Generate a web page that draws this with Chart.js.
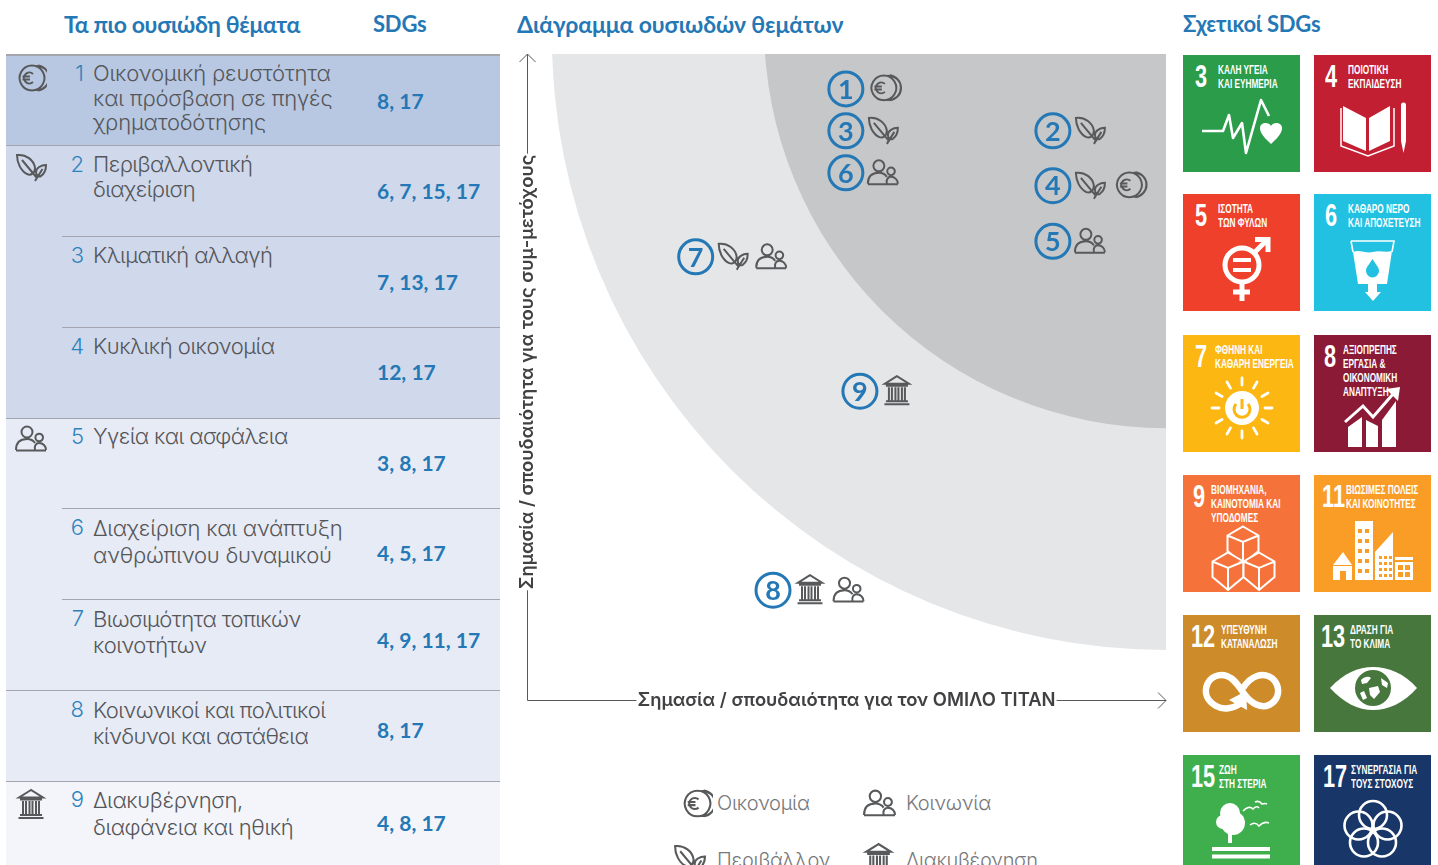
<!DOCTYPE html>
<html lang="el">
<head>
<meta charset="utf-8">
<title>Διάγραμμα ουσιωδών θεμάτων</title>
<script src="https://cdn.jsdelivr.net/npm/chart.js@4"></script>
<style>
  html, body { margin: 0; padding: 0; width: 1438px; height: 865px; overflow: hidden; background: #fff; }
  body { position: relative; font-family: Inter, "Noto Sans", sans-serif; color: #58595b; }
  .abs { position: absolute; }
  .head { position: absolute; font: 700 23px/28px Lato, "Noto Sans", sans-serif; color: #2478b5; letter-spacing: -0.2px; white-space: nowrap; }
  .band { position: absolute; left: 6px; width: 494px; }
  .rule { position: absolute; height: 1px; background: #a3a7ad; }
  .num { position: absolute; left: 62px; width: 22px; text-align: right; font: 300 22px/25px Inter, sans-serif; color: #2f83bd; }
  .txt { position: absolute; left: 93px; font: 300 22px/25px Inter, sans-serif; color: #55565a; white-space: nowrap; }
  .sdg { position: absolute; left: 377px; font: 700 21px/26px Lato, sans-serif; color: #2478b5; white-space: nowrap; }
  .legend { position: absolute; font: 300 20px/26px Inter, sans-serif; color: #77787b; white-space: nowrap; letter-spacing: -0.3px; }
  .tile { position: absolute; width: 117px; height: 117px; color: #fff; overflow: hidden; }
  .tile svg { position: absolute; left: 0; top: 0; }
  .tile .n { position: absolute; top: 5px; font: 700 32px/32px "Liberation Sans", sans-serif; transform: scaleX(.68); transform-origin: left top; }
  .tile .t { position: absolute; top: 8px; font: 700 12.5px/14px "Liberation Sans", sans-serif; white-space: nowrap; transform: scaleX(.66); transform-origin: left top; }
  #chartBox { position: absolute; left: 510px; top: 40px; width: 670px; height: 680px; }
</style>
</head>
<body>
<div id="chartBox"><canvas id="chart"></canvas></div>
<script>
// data
const topicNumbers = [1, 2, 3, 4, 5, 6, 7, 8, 9];
const topicLabels = [
  ["Οικονομική ρευστότητα", "και πρόσβαση σε πηγές", "χρηματοδότησης"],
  ["Περιβαλλοντική", "διαχείριση"],
  ["Κλιματική αλλαγή"],
  ["Κυκλική οικονομία"],
  ["Υγεία και ασφάλεια"],
  ["Διαχείριση και ανάπτυξη", "ανθρώπινου δυναμικού"],
  ["Βιωσιμότητα τοπικών", "κοινοτήτων"],
  ["Κοινωνικοί και πολιτικοί", "κίνδυνοι και αστάθεια"],
  ["Διακυβέρνηση,", "διαφάνεια και ηθική"]
];
const topicSdgs = ["8, 17", "6, 7, 15, 17", "7, 13, 17", "12, 17", "3, 8, 17", "4, 5, 17", "4, 9, 11, 17", "8, 17", "4, 8, 17"];
const topicX = [49.9, 82.3, 49.9, 82.3, 82.3, 49.9, 26.4, 38.5, 52.1];
const topicY = [94.6, 88.1, 88.1, 79.6, 71.0, 81.6, 68.6, 17.0, 47.8];
const topicIcons = [["coins"], ["leaf"], ["leaf"], ["leaf", "coins"], ["people"], ["people"], ["leaf", "people"], ["bank", "people"], ["bank"]];
const xAxisLabel = "Σημασία / σπουδαιότητα για τον ΟΜΙΛΟ ΤΙΤΑΝ";
const yAxisLabel = "Σημασία / σπουδαιότητα για τους συμ-μετόχους";
const sdgNumbers = [3, 4, 5, 6, 7, 8, 9, 11, 12, 13, 15, 17];
const sdgTitles = [
  ["ΚΑΛΗ ΥΓΕΙΑ", "ΚΑΙ ΕΥΗΜΕΡΙΑ"], ["ΠΟΙΟΤΙΚΗ", "ΕΚΠΑΙΔΕΥΣΗ"],
  ["ΙΣΟΤΗΤΑ", "ΤΩΝ ΦΥΛΩΝ"], ["ΚΑΘΑΡΟ ΝΕΡΟ", "ΚΑΙ ΑΠΟΧΕΤΕΥΣΗ"],
  ["ΦΘΗΝΗ ΚΑΙ", "ΚΑΘΑΡΗ ΕΝΕΡΓΕΙΑ"], ["ΑΞΙΟΠΡΕΠΗΣ", "ΕΡΓΑΣΙΑ &", "ΟΙΚΟΝΟΜΙΚΗ", "ΑΝΑΠΤΥΞΗ"],
  ["ΒΙΟΜΗΧΑΝΙΑ,", "ΚΑΙΝΟΤΟΜΙΑ ΚΑΙ", "ΥΠΟΔΟΜΕΣ"], ["ΒΙΩΣΙΜΕΣ ΠΟΛΕΙΣ", "ΚΑΙ ΚΟΙΝΟΤΗΤΕΣ"],
  ["ΥΠΕΥΘΥΝΗ", "ΚΑΤΑΝΑΛΩΣΗ"], ["ΔΡΑΣΗ ΓΙΑ", "ΤΟ ΚΛΙΜΑ"],
  ["ΖΩΗ", "ΣΤΗ ΣΤΕΡΙΑ"], ["ΣΥΝΕΡΓΑΣΙΑ ΓΙΑ", "ΤΟΥΣ ΣΤΟΧΟΥΣ"]
];
const legendLabels = ["Οικονομία", "Κοινωνία", "Περιβάλλον", "Διακυβέρνηση"];
const legendIcons = ["coins", "people", "leaf", "bank"];

// the two grey bands: circle centre and radius in axis units
const bandCentres = [[100, 102.8], [100, 104.3]];
const bandRadii = [96.1, 62.9];
const bandColors = ["#e5e6e8", "#c6c7c9"];

// layout
const rowTops = [54, 145, 236, 327, 417, 508, 599, 690, 780];
const rowLines = [24.5, 24.5, 25, 25, 25, 26.5, 26, 26, 27];
const rowSpacing = [-0.2, -0.6, -0.6, -0.5, -0.6, -0.25, -0.6, -0.6, -0.4];
const sdgTops = [88, 178, 269, 359, 450, 540, 627, 717, 810];
const bands = [[55, 90, "#b8c8e2"], [146, 272, "#cfd9eb"], [418, 363, "#e7ebf5"], [781, 84, "#f3f5fb"]];
const tileColors = ["#2a9c4a", "#c31f33", "#ef402b", "#22c1e2", "#fdb713", "#8b1a37", "#f5733a", "#f99d26", "#cd8b2a", "#48773e", "#3fae4c", "#183667"];
const tileTops = [55, 194, 335, 475, 615, 755];
const tileNumX = [12, 11, 12, 11, 12, 10, 10, 8, 8, 7, 8, 9];
const tileTxtX = [35, 34, 35, 34, 32, 29, 28, 32, 38, 36, 36, 37];

const iconPaths = {
  coins: "M17 3.6 a12.4 12.4 0 1 0 0.01 0 Z M20 4.2 a12 12 0 1 1 0 23.6 M23 3.4 a12.6 12.6 0 0 1 0 25 M18 12 a5.4 5.4 0 1 0 0 8 M7.5 14.6 H15 M7.5 17.6 H15",
  leaf: "M2 4 C11 3 19 9 20 17 C20 22 16 25 12 23 C6 20 2 12 2 4 Z M7 9 L22 27 M31 14 C26 14 21 17 21 21 C21 25 24 26 26 25 C29 23 31 19 31 14 Z M20 30 L27.5 18",
  people: "M17.5 10 a5.5 5.5 0 1 0 -11 0 a5.5 5.5 0 1 0 11 0 Z M1 28 C1 21 5 17 12 17 C15 17 18 18 20 21 M28 15.5 a3.8 3.8 0 1 0 -7.6 0 a3.8 3.8 0 1 0 7.6 0 Z M20 28 C19 24 21 21 24 21 C28 21 31 24 31 28 M1 28.4 H31",
  bank: "M16 2 L4 9.5 H28 Z M5 11.5 H27 M8 13 V26 M11 13 V26 M14.5 13 V26 M17.5 13 V26 M21 13 V26 M24 13 V26 M5 27 H27 M3.5 30 H28.5"
};

function iconSvg(name, size) {
  return `<svg width="${size}" height="${size}" viewBox="0 0 32 32" fill="none" stroke="#58595b" stroke-width="2"><path d="${iconPaths[name]}"/></svg>`;
}

function put(cls, left, top, html, extra) {
  const el = document.createElement("div");
  el.className = cls;
  if (left !== null) el.style.left = left + "px";
  el.style.top = top + "px";
  if (extra) el.style.cssText += extra;
  el.innerHTML = html;
  document.body.appendChild(el);
  return el;
}

// -------------------------
// LEFT TABLE
// -------------------------
put("head", 64, 10, "Τα πιο ουσιώδη θέματα", "letter-spacing:-0.35px");
put("head", 373, 10, "SDGs", "font-size:22px");
put("head", 517, 10, "Διάγραμμα ουσιωδών θεμάτων", "letter-spacing:-0.1px");
put("head", 1183, 10, "Σχετικοί SDGs", "font-size:22px");

bands.forEach(b => put("band", null, b[0], "", `height:${b[1]}px;background:${b[2]}`));
put("rule", 6, 54, "", "width:494px;height:2px");
[[145, 6], [236, 62], [327, 62], [418, 6], [508, 62], [599, 62], [690, 6], [781, 6]].forEach(r => {
  put("rule", r[1], r[0], "", `width:${500 - r[1]}px`);
});

topicNumbers.forEach((n, i) => {
  const top = rowTops[i] + 7;
  put("num", null, top, String(n));
  put("txt", null, top, topicLabels[i].join("<br>"), `line-height:${rowLines[i]}px;letter-spacing:${rowSpacing[i]}px`);
  put("sdg", null, sdgTops[i], topicSdgs[i]);
});

[["coins", 62], ["leaf", 151], ["people", 422], ["bank", 788]].forEach(a => {
  put("abs", 15, a[1], iconSvg(a[0], 32));
});

// -------------------------
// LEGEND
// -------------------------
const legendPos = [[680, 787, 717, 790], [863, 786, 906, 790], [673, 842, 717, 847], [862, 842, 906, 847]];
legendLabels.forEach((label, i) => {
  put("abs", legendPos[i][0], legendPos[i][1], iconSvg(legendIcons[i], 33));
  put("legend", legendPos[i][2], legendPos[i][3], label);
});

// -------------------------
// SDG TILES
// -------------------------
function cube(cx, cy, s, fill) {
  const h = s * 0.58;
  return `<path fill="${fill}" d="M${cx} ${cy - s} L${cx + s} ${cy - s + h} V${cy + h} L${cx} ${cy + s + h - s * 0.16} L${cx - s} ${cy + h} V${cy - s + h} Z M${cx - s} ${cy - s + h} L${cx} ${cy} L${cx + s} ${cy - s + h} M${cx} ${cy} V${cy + s + h - s * 0.16}"/>`;
}
function sunRays() {
  let out = "";
  for (let a = 0; a < 360; a += 30) {
    const r = a * Math.PI / 180;
    out += `<line x1="${59 + 23 * Math.cos(r)}" y1="${73 + 23 * Math.sin(r)}" x2="${59 + 30 * Math.cos(r)}" y2="${73 + 30 * Math.sin(r)}"/>`;
  }
  return out;
}
function windows(x0, y0, cols, rows, dx, dy, size, color) {
  let out = "";
  for (let r = 0; r < rows; r++) for (let c = 0; c < cols; c++) {
    out += `<rect x="${x0 + c * dx}" y="${y0 + r * dy}" width="${size}" height="${size}" fill="${color}"/>`;
  }
  return out;
}

const tileArt = {
  3: `<g fill="none" stroke="#fff" stroke-width="2.6" stroke-linejoin="round"><polyline points="19,76 40,76 46,60 50,83 59,68 63,98 78,45 86,61"/></g>
      <path fill="#fff" d="M88 89 C78 80 77 76 77 73 C77 68 85 66 88 71 C91 66 99 68 99 73 C99 76 98 80 88 89 Z"/>`,
  4: `<g fill="#fff"><path d="M29 51 L52 63 V96 L29 86 Z M55 63 L76 51 V86 L55 96 Z"/><path d="M87 50 a2.5 2.5 0 0 1 5 0 V86 L89.5 98 L87 86 Z"/></g>
      <path fill="none" stroke="#fff" stroke-width="1.5" d="M27 53 V91 L54 101 L80 91 V53"/>`,
  5: `<g fill="none" stroke="#fff" stroke-width="5"><circle cx="59" cy="71" r="17"/><line x1="59" y1="88" x2="59" y2="107"/><line x1="50" y1="98" x2="67" y2="98"/><line x1="71" y1="59" x2="83" y2="47"/><polyline points="72,45.5 85,45.5 85,58"/></g>
      <g fill="#fff"><rect x="50" y="64" width="18" height="4"/><rect x="50" y="74" width="18" height="4"/></g>`,
  6: `<path fill="#fff" d="M39 58 C46 55 52 60 59 58 C66 56 72 59 78 57 L73 90 H63 V98 H67 L59 107 L51 98 H54 V90 H44 Z"/>
      <path fill="none" stroke="#fff" stroke-width="1.6" d="M37 47 H80 L78 58 M37 47 L39 58"/>
      <path fill="#22c1e2" d="M58.5 65 C62 71 65 73 65 77 a6.5 6.5 0 0 1 -13 0 C52 73 55 71 58.5 65 Z"/>`,
  7: `<g stroke="#fff" stroke-width="2.8" stroke-linecap="round">${sunRays()}</g>
      <circle cx="59" cy="73" r="17" fill="#fff"/>
      <g fill="none" stroke="#fdb713" stroke-width="3"><path d="M53 69 a8 8 0 1 0 12 0"/><line x1="59" y1="64" x2="59" y2="74"/></g>`,
  8: `<g fill="#fff"><path d="M34 92 L48 82 V112 H34 Z M52 85 L64 91 V112 H52 Z M68 85 L82 66 V112 H68 Z"/><path d="M72 54 L86 52 L84 66 Z"/></g>
      <polyline points="31,87 49,71 59,82 79,59" fill="none" stroke="#fff" stroke-width="3"/>`,
  9: `<g stroke="#fff" stroke-width="2">${cube(60, 67, 15.5, "#f5733a")}${cube(45, 93, 15.5, "#f5733a")}${cube(76, 93, 15.5, "#f5733a")}</g>`,
  11: `<g fill="#fff"><rect x="41" y="46" width="18" height="59"/><path d="M19 90 L29 77 L38 90 Z"/><rect x="19" y="91" width="19" height="14"/>
        <path d="M61 105 V77 L79 57 V105 Z"/><rect x="81" y="82" width="18" height="3"/><rect x="81" y="87" width="18" height="18"/></g>
       ${windows(44, 54, 2, 5, 7, 10, 4, "#f99d26")}${windows(65, 81, 3, 4, 5, 6, 3, "#f99d26")}${windows(84, 90, 2, 2, 7, 7, 5, "#f99d26")}
       <rect x="26" y="96" width="6" height="9" fill="#f99d26"/>`,
  12: `<path fill="none" stroke="#fff" stroke-width="6.5" d="M58 88 C50 94 40 95 33 91 C24 86 21 78 24 70 C27 62 36 58 44 61 C52 64 56 72 62 80 C68 88 78 94 86 90 C94 86 97 78 94 70 C91 62 82 58 74 61 C68 63 64 67 60 73"/>
       <path fill="#fff" d="M46 85 L63 76 L64 95 Z"/>`,
  13: `<path fill="#fff" d="M16 73 C30 58 44 52 59 52 C74 52 90 58 103 73 C90 88 74 95 59 95 C44 95 30 88 16 73 Z"/>
       <circle cx="59" cy="73" r="18" fill="#48773e"/>
       <path fill="#fff" d="M47 65 C51 61 55 61 57 63 L53 68 L48 69 Z M55 73 L64 71 L66 77 L60 84 L56 80 Z M67 63 L74 68 L73 73 L68 70 Z M46 78 L50 76 L53 83 L49 85 Z"/>`,
  15: `<g fill="#fff"><circle cx="47" cy="58" r="10"/><circle cx="40" cy="67" r="7"/><circle cx="50" cy="68" r="12"/><rect x="45" y="78" width="4" height="10"/>
        <rect x="29" y="92" width="58" height="4"/><rect x="29" y="99.5" width="58" height="4"/></g>
       <g fill="none" stroke="#fff" stroke-width="1.6"><path d="M60 56 Q66 50 70 54 Q74 50 76 53"/><path d="M72 47 Q76 45 79 49 Q82 48 84 49"/><path d="M67 70 Q72 66 76 71 Q81 66 86 68"/></g>`,
  17: `<g fill="none" stroke="#fff" stroke-width="2.6"><circle cx="59" cy="60" r="14"/><circle cx="73.5" cy="70.5" r="14"/><circle cx="68" cy="87.5" r="14"/><circle cx="50" cy="87.5" r="14"/><circle cx="44.5" cy="70.5" r="14"/></g>`
};

sdgNumbers.forEach((n, i) => {
  const col = i % 2, row = Math.floor(i / 2);
  const tile = put("tile", col ? 1314 : 1183, tileTops[row], "", `background:${tileColors[i]}`);
  tile.innerHTML = `<svg width="117" height="117" viewBox="0 0 117 117">${tileArt[n]}</svg>
    <div class="n" style="left:${tileNumX[i]}px">${n}</div>
    <div class="t" style="left:${tileTxtX[i]}px">${sdgTitles[i].join("<br>")}</div>`;
});

// -------------------------
// CHART JS LOGIC
// -------------------------
const axisFont = "600 18.4px Inter, 'Noto Sans', sans-serif";

const matrixPlugin = {
  id: "matrix",
  beforeDatasetsDraw(chart) {
    const { ctx, chartArea: a, scales: { x, y } } = chart;
    ctx.save();
    ctx.beginPath();
    ctx.rect(a.left, a.top, a.right - a.left, a.bottom - a.top);
    ctx.clip();
    bandRadii.forEach((r, i) => {
      const cx = x.getPixelForValue(bandCentres[i][0]);
      const cy = y.getPixelForValue(bandCentres[i][1]);
      const rad = cx - x.getPixelForValue(bandCentres[i][0] - r);
      ctx.fillStyle = bandColors[i];
      ctx.beginPath();
      ctx.arc(cx, cy, rad, 0, Math.PI * 2);
      ctx.fill();
    });
    ctx.restore();
  },
  afterDatasetsDraw(chart) {
    const { ctx, chartArea: a } = chart;
    const meta = chart.getDatasetMeta(0);
    ctx.save();
    // numbers and theme icons beside each point
    meta.data.forEach((pt, i) => {
      ctx.font = "700 27px Lato, sans-serif";
      ctx.fillStyle = "#2478b5";
      ctx.textAlign = "center";
      ctx.textBaseline = "middle";
      ctx.fillText(String(topicNumbers[i]), pt.x, pt.y + 1);
      topicIcons[i].forEach((name, k) => {
        ctx.save();
        ctx.translate(pt.x + 21 + k * 38.5, pt.y - 17);
        ctx.strokeStyle = "#58595b";
        ctx.lineWidth = 2;
        ctx.stroke(new Path2D(iconPaths[name]));
        ctx.restore();
      });
    });
    // axes with arrow heads, broken by their titles
    ctx.font = axisFont;
    ctx.fillStyle = "#414042";
    ctx.strokeStyle = "#58595b";
    ctx.lineWidth = 1;
    const midX = (a.left + a.right) / 2, midY = (a.top + a.bottom) / 2 - 5;
    const wx = ctx.measureText(xAxisLabel).width / 2 + 1;
    const wy = ctx.measureText(yAxisLabel).width / 2 + 1;
    ctx.beginPath();
    ctx.moveTo(a.left + .5, midY + wy);
    ctx.lineTo(a.left + .5, a.bottom + .5);
    ctx.lineTo(midX - wx, a.bottom + .5);
    ctx.moveTo(midX + wx, a.bottom + .5);
    ctx.lineTo(a.right, a.bottom + .5);
    ctx.moveTo(a.right - 8, a.bottom - 7.5);
    ctx.lineTo(a.right, a.bottom + .5);
    ctx.lineTo(a.right - 8, a.bottom + 8.5);
    ctx.moveTo(a.left + .5, midY - wy);
    ctx.lineTo(a.left + .5, a.top);
    ctx.moveTo(a.left - 7.5, a.top + 8);
    ctx.lineTo(a.left + .5, a.top);
    ctx.lineTo(a.left + 8.5, a.top + 8);
    ctx.stroke();
    ctx.textAlign = "center";
    ctx.textBaseline = "middle";
    ctx.fillText(xAxisLabel, midX, a.bottom);
    ctx.translate(a.left, midY);
    ctx.rotate(-Math.PI / 2);
    ctx.fillText(yAxisLabel, 0, 0);
    ctx.restore();
  }
};

new Chart(document.getElementById("chart"), {
  type: "scatter",
  data: {
    datasets: [{
      label: "Θέματα",
      data: topicX.map((v, i) => ({ x: v, y: topicY[i] })),
      pointStyle: "circle",
      pointRadius: 17,
      pointHoverRadius: 17,
      pointBorderWidth: 3,
      pointBorderColor: "#2478b5",
      pointBackgroundColor: "rgba(0,0,0,0)"
    }]
  },
  options: {
    responsive: true,
    maintainAspectRatio: false,
    animation: false,
    layout: { autoPadding: false, padding: { left: 17, top: 14, right: 14, bottom: 20 } },
    plugins: { legend: { display: false }, tooltip: { enabled: false } },
    scales: {
      x: { type: "linear", min: 0, max: 100, display: false },
      y: { type: "linear", min: 0, max: 100, display: false }
    }
  },
  plugins: [matrixPlugin]
});
</script>
</body>
</html>
